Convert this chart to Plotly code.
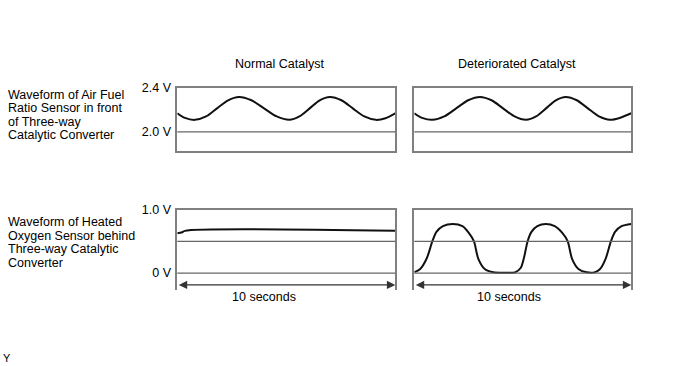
import plotly.graph_objects as go

# ---------------- data ----------------
# Air fuel ratio sensor (V) vs time (s), normal catalyst
af_norm_t = [0, 0.35, 0.81, 1.32, 1.82, 2.33, 2.83, 3.4, 3.98, 4.56, 5.14, 5.6, 6.07, 6.53,
             7.0, 7.53, 8.05, 8.58, 9.11, 9.55, 10]
af_norm_v = [2.17, 2.128, 2.11, 2.141, 2.215, 2.289, 2.32, 2.289, 2.215, 2.141, 2.11, 2.141,
             2.215, 2.289, 2.32, 2.289, 2.215, 2.141, 2.11, 2.125, 2.17]
# Air fuel ratio sensor, deteriorated catalyst
af_det_t = [0, 0.36, 0.83, 1.38, 1.93, 2.48, 3.03, 3.56, 4.09, 4.62, 5.15, 5.61, 6.07, 6.52,
            6.98, 7.49, 8.0, 8.51, 9.02, 9.5, 10]
af_det_v = [2.17, 2.128, 2.11, 2.141, 2.215, 2.289, 2.32, 2.289, 2.215, 2.141, 2.11, 2.141,
            2.215, 2.289, 2.32, 2.289, 2.215, 2.141, 2.11, 2.13, 2.17]
# Heated oxygen sensor, normal catalyst
o2_norm_t = [0, 0.2, 0.35, 10]
o2_norm_v = [0.63, 0.64, 0.667, 0.667]
# Heated oxygen sensor, deteriorated catalyst
o2_det_t = [0, 0.26, 0.57, 0.83, 1.02, 1.32, 1.77, 2.22, 2.52, 2.75, 2.95, 3.26, 3.64, 4.13,
            4.64, 4.9, 5.06, 5.22, 5.4, 5.67, 6.06, 6.47, 6.83, 7.07, 7.27, 7.58, 7.95,
            8.3, 8.55, 8.82, 9.06, 9.25, 9.55, 10]
o2_det_v = [0.015, 0.06, 0.23, 0.5, 0.65, 0.74, 0.775, 0.74, 0.63, 0.5, 0.226, 0.06, 0.012, 0.005,
            0.012, 0.08, 0.25, 0.5, 0.65, 0.74, 0.775, 0.74, 0.63, 0.5, 0.226, 0.06, 0.012,
            0.012, 0.06, 0.23, 0.5, 0.65, 0.74, 0.775]

col_titles = ["Normal Catalyst", "Deteriorated Catalyst"]
row_titles = [["Waveform of Air Fuel", "Ratio Sensor in front", "of Three-way", "Catalytic Converter"],
              ["Waveform of Heated", "Oxygen Sensor behind", "Three-way Catalytic", "Converter"]]
af_ticks = [2.0, 2.4]
af_ticktext = ["2.0 V", "2.4 V"]
o2_ticks = [0, 1.0]
o2_ticktext = ["0 V", "1.0 V"]
af_ref = 2.0
o2_refs = [0.5, 0.0]
span_label = "10 seconds"
t_range = [0, 10]
af_range = [1.821, 2.4]
o2_range = [-0.274, 1.0]
arrow_v = -0.186

# ---------------- figure ----------------
W, H = 688, 366
FONT = "Liberation Sans, Arial, sans-serif"
FS = 12.5
BORDER = "#808080"
REF = "#666666"

def px(x):
    return x / W

def py(y):
    return 1 - y / H

xL = [px(177.3), px(395.3)]
xR = [px(414.3), px(631.3)]
yT = [py(147.3), py(82.7)]
yB = [py(289.0), py(206.7)]

fig = go.Figure()
series = [
    (af_norm_t, af_norm_v, "x", "y"),
    (af_det_t, af_det_v, "x2", "y2"),
    (o2_norm_t, o2_norm_v, "x3", "y3"),
    (o2_det_t, o2_det_v, "x4", "y4"),
]
for t, v, xa, ya in series:
    fig.add_trace(go.Scatter(x=t, y=v, xaxis=xa, yaxis=ya, mode="lines",
                             line=dict(color="#111111", width=2, shape="spline", smoothing=0.8),
                             hoverinfo="skip", showlegend=False))

xbase = dict(range=t_range, showgrid=False, zeroline=False, showticklabels=False, ticks="",
             fixedrange=True)
ybase = dict(showgrid=False, zeroline=False, ticks="", fixedrange=True,
             tickfont=dict(family=FONT, size=FS, color="#000"))

layout = dict(
    width=W, height=H, margin=dict(l=0, r=0, t=0, b=0),
    paper_bgcolor="white", plot_bgcolor="white", showlegend=False,
    xaxis=dict(xbase, domain=xL, anchor="y", showline=True, mirror=True, linecolor=BORDER, linewidth=1.5),
    xaxis2=dict(xbase, domain=xR, anchor="y2", showline=True, mirror=True, linecolor=BORDER, linewidth=1.5),
    xaxis3=dict(xbase, domain=xL, anchor="y3", side="top", showline=True, mirror=False, linecolor=BORDER, linewidth=1.5),
    xaxis4=dict(xbase, domain=xR, anchor="y4", side="top", showline=True, mirror=False, linecolor=BORDER, linewidth=1.5),
    yaxis=dict(ybase, domain=yT, anchor="x", range=af_range, tickvals=af_ticks, ticktext=af_ticktext,
               showline=True, mirror=True, linecolor=BORDER, linewidth=1.5, ticklabelstandoff=2),
    yaxis2=dict(ybase, domain=yT, anchor="x2", range=af_range, showticklabels=False,
                showline=True, mirror=True, linecolor=BORDER, linewidth=1.5),
    yaxis3=dict(ybase, domain=yB, anchor="x3", range=o2_range, tickvals=o2_ticks, ticktext=o2_ticktext,
                showline=True, mirror=True, linecolor=BORDER, linewidth=1.5, ticklabelstandoff=2),
    yaxis4=dict(ybase, domain=yB, anchor="x4", range=o2_range, showticklabels=False,
                showline=True, mirror=True, linecolor=BORDER, linewidth=1.5),
)
fig.update_layout(**layout)

shapes = []
for xr, yr in [("x", "y"), ("x2", "y2")]:
    shapes.append(dict(type="line", xref=xr + " domain", yref=yr, x0=0, x1=1, y0=af_ref, y1=af_ref,
                       line=dict(color=REF, width=1.3)))
for xr, yr in [("x3", "y3"), ("x4", "y4")]:
    for r in o2_refs:
        shapes.append(dict(type="line", xref=xr + " domain", yref=yr, x0=0, x1=1, y0=r, y1=r,
                           line=dict(color=REF, width=1.3)))
fig.update_layout(shapes=shapes)

ann = []
txt = dict(family=FONT, size=FS, color="#000")
# column titles
ann.append(dict(text=col_titles[0], x=px(279.3), y=py(58.5), xref="paper", yref="paper",
                xanchor="center", yanchor="middle", showarrow=False, font=txt))
ann.append(dict(text=col_titles[1], x=px(516.7), y=py(58.5), xref="paper", yref="paper",
                xanchor="center", yanchor="middle", showarrow=False, font=txt))
# row titles
for lines, ys in [(row_titles[0], [89.5, 103.2, 116.9, 130.6]), (row_titles[1], [219.5, 233.2, 246.9, 260.6])]:
    for s, yy in zip(lines, ys):
        ann.append(dict(text=s, x=px(5.5), y=py(yy), xref="paper", yref="paper",
                        xanchor="left", yanchor="middle", showarrow=False, font=txt))
# span arrows and labels
for xr, yr, cx in [("x3", "y3", 263.8), ("x4", "y4", 509.0)]:
    ann.append(dict(text="", x=t_range[1], y=arrow_v, ax=t_range[0], ay=arrow_v,
                    xref=xr, yref=yr, axref=xr, ayref=yr, showarrow=True,
                    arrowside="end+start", arrowhead=2, arrowsize=1.4, arrowwidth=1.2,
                    arrowcolor="#333333", standoff=0, startstandoff=0))
    ann.append(dict(text=span_label, x=px(cx), y=py(295.8), xref="paper", yref="paper",
                    xanchor="center", yanchor="middle", showarrow=False, font=txt))
ann.append(dict(text="Y", x=px(7), y=py(358), xref="paper", yref="paper",
                xanchor="center", yanchor="middle", showarrow=False,
                font=dict(family=FONT, size=11, color="#000")))
fig.update_layout(annotations=ann)

fig.write_html("out.html", config={"displayModeBar": False},
               post_script="document.body.style.margin='0';document.body.style.padding='0';"
                           "document.documentElement.style.overflow='hidden';")
